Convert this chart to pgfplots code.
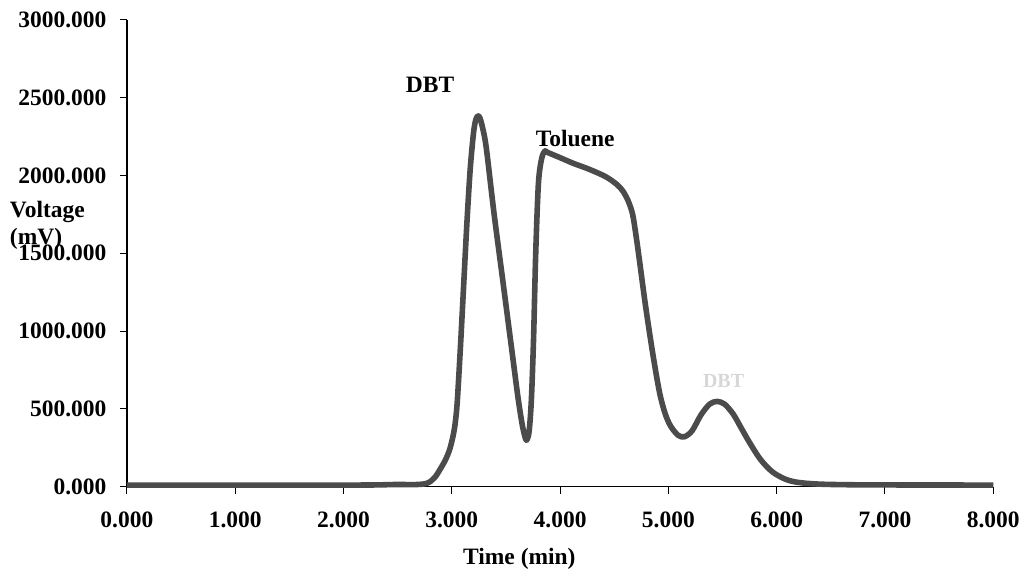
\documentclass[border=0pt]{standalone}
\usepackage{fontspec}
\setmainfont{Liberation Serif}
\usepackage{pgfplots}
\pgfplotsset{compat=1.18}
\definecolor{curve}{RGB}{75,75,75}
\definecolor{lightlab}{RGB}{215,215,215}
\begin{document}
\begin{tikzpicture}
\begin{axis}[
  at={(0,0)}, anchor=south west,
  width=867bp, height=467bp, scale only axis,
  xmin=0, xmax=8, ymin=0, ymax=3000,
  axis x line=bottom, axis y line=left,
  axis line style={-, line width=1.2bp, black},
  xtick={0,1,...,8}, ytick={0,500,...,3000},
  tick align=outside, major tick length=7bp,
  tick style={black, line width=1bp},
  /pgf/number format/assume math mode=true,
  /pgf/number format/.cd, fixed, fixed zerofill, precision=3, 1000 sep={},
  /pgfplots/.cd,
  every tick label/.append style={font=\fontsize{23.5bp}{27bp}\selectfont\bfseries},
  yticklabel style={xshift=-10bp},
  xticklabel style={yshift=-15bp},
  xlabel={Time (min)},
  xlabel style={font=\fontsize{23.5bp}{27bp}\selectfont\bfseries, at={(axis description cs:0.453,-0.125)}, anchor=north},
  ylabel={Voltage\\(mV)},
  ylabel style={font=\fontsize{23.5bp}{27bp}\selectfont\bfseries, rotate=-90, align=left, anchor=north west, at={(axis description cs:-0.139,0.62)}},
  clip=false,
]
\addplot[curve, line width=5.6bp, line join=round, smooth, tension=0.5] coordinates {
(0,10) (1,10) (2,10) (2.3,11) (2.5,14) (2.65,13) (2.75,18) (2.8,32) (2.85,65) (2.89,109) (2.94,170) (2.98,238)
(3.01,320) (3.03,400) (3.05,540) (3.08,900) (3.11,1300) (3.14,1700) (3.17,2040) (3.20,2270) (3.22,2355) (3.24,2383)
(3.26,2370) (3.29,2290) (3.32,2170) (3.39,1757) (3.47,1330) (3.55,901) (3.61,580) (3.65,400) (3.68,310) (3.695,302)
(3.715,360) (3.735,560) (3.755,950) (3.775,1500) (3.80,1950) (3.83,2110) (3.86,2158) (3.88,2150)
(4.0,2115) (4.12,2079) (4.27,2040) (4.42,1993) (4.52,1945) (4.58,1900) (4.63,1835) (4.67,1750) (4.70,1620) (4.73,1470)
(4.79,1158) (4.86,837) (4.92,600) (4.97,470) (5.02,390) (5.09,330) (5.15,321) (5.22,360) (5.3,460) (5.38,530)
(5.45,548) (5.52,530) (5.6,465) (5.67,380) (5.75,283) (5.85,175) (5.96,95) (6.08,48) (6.2,27)
(6.4,16) (6.7,12) (7,11) (8,10)
};
\node[font=\fontsize{23.5bp}{27bp}\selectfont\bfseries] at (axis cs:2.80,2582) {DBT};
\node[font=\fontsize{23.5bp}{27bp}\selectfont\bfseries] at (axis cs:4.14,2235) {Toluene};
\node[font=\fontsize{20bp}{24bp}\selectfont\bfseries, text=lightlab] at (axis cs:5.51,681) {DBT};
\end{axis}
\path[use as bounding box] (-127bp,-82bp) rectangle (896bp,487bp);
\end{tikzpicture}
\end{document}
